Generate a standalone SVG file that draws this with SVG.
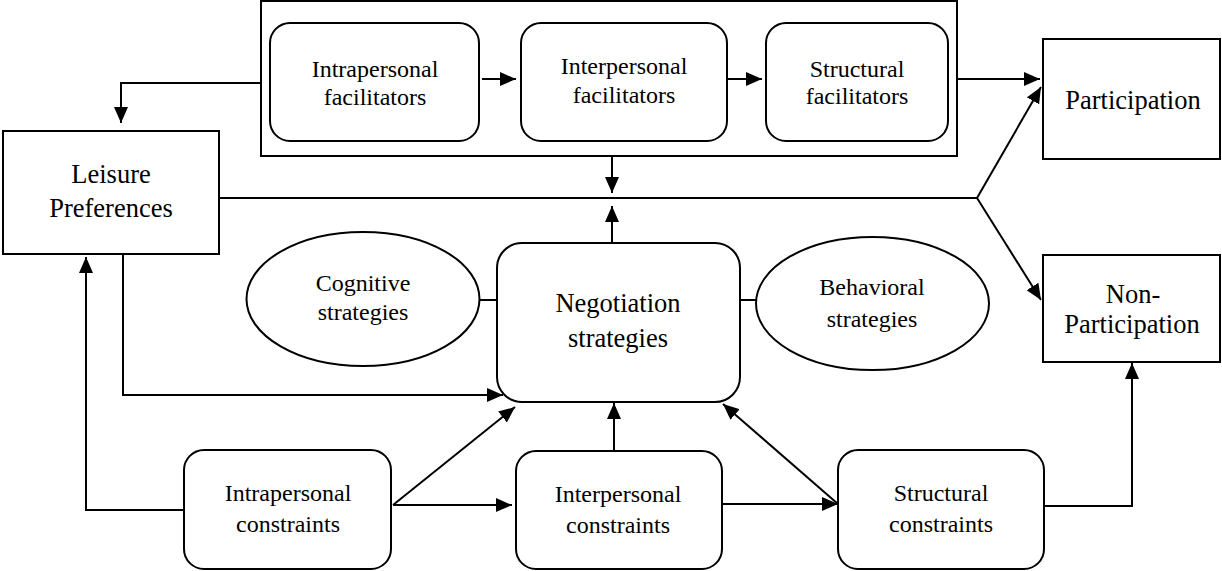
<svg xmlns="http://www.w3.org/2000/svg" width="1222" height="571" viewBox="0 0 1222 571">
<style>
.box{fill:#fff;stroke:#000;stroke-width:2}
.ln{fill:none;stroke:#000;stroke-width:2}
</style>
<defs>
<marker id="ah" viewBox="0 0 16 14" refX="16" refY="7" markerWidth="16" markerHeight="14" markerUnits="userSpaceOnUse" orient="auto">
<path d="M0,0 L16,7 L0,14 Z" fill="#000"/>
</marker>
</defs>
<rect width="1222" height="571" fill="#fff"/>
<g font-family="Liberation Serif, Times New Roman, serif" text-anchor="middle" fill="#000">
<g id="facilitators-group"><rect class="box" x="261" y="1" width="696" height="155"/></g>
<g id="intrapersonal-facilitators" font-size="24"><rect class="box" x="270" y="23" width="209" height="118" rx="20"/><text x="375" y="77">Intrapersonal</text><text x="375" y="105">facilitators</text></g>
<g id="interpersonal-facilitators" font-size="24"><rect class="box" x="521" y="23" width="206" height="118" rx="20"/><text x="624" y="74">Interpersonal</text><text x="624" y="103">facilitators</text></g>
<g id="structural-facilitators" font-size="24"><rect class="box" x="766" y="23" width="182" height="118" rx="20"/><text x="857" y="77">Structural</text><text x="857" y="104">facilitators</text></g>
<g id="participation" font-size="26.5"><rect class="box" x="1043" y="39" width="177" height="120"/><text x="1133" y="109">Participation</text></g>
<g id="non-participation" font-size="26.5"><rect class="box" x="1043" y="255" width="177" height="107"/><text x="1133" y="303">Non-</text><text x="1132" y="333">Participation</text></g>
<g id="leisure-preferences" font-size="26.5"><rect class="box" x="3" y="131" width="216" height="123"/><text x="111" y="183">Leisure</text><text x="111" y="217">Preferences</text></g>
<g id="cognitive-strategies" font-size="24"><ellipse class="box" cx="363" cy="299" rx="116.5" ry="67"/><text x="363" y="291">Cognitive</text><text x="363" y="320">strategies</text></g>
<g id="negotiation-strategies" font-size="26.5"><rect class="box" x="497" y="243" width="243" height="159" rx="25"/><text x="618" y="312">Negotiation</text><text x="618" y="347">strategies</text></g>
<g id="behavioral-strategies" font-size="24"><ellipse class="box" cx="872.5" cy="303.5" rx="116.5" ry="66.5"/><text x="872" y="295">Behavioral</text><text x="872" y="327">strategies</text></g>
<g id="intrapersonal-constraints" font-size="24"><rect class="box" x="184" y="450" width="207" height="119" rx="20"/><text x="288" y="501">Intrapersonal</text><text x="288" y="532">constraints</text></g>
<g id="interpersonal-constraints" font-size="24"><rect class="box" x="516" y="451" width="206" height="118" rx="20"/><text x="618" y="502">Interpersonal</text><text x="618" y="533">constraints</text></g>
<g id="structural-constraints" font-size="24"><rect class="box" x="838" y="450" width="206" height="119" rx="20"/><text x="941" y="501">Structural</text><text x="941" y="532">constraints</text></g>
</g>
<g id="connectors">
<path class="ln" d="M482,79 H516" marker-end="url(#ah)"/>
<path class="ln" d="M728,79 H762" marker-end="url(#ah)"/>
<path class="ln" d="M261,83 H121 V123" marker-end="url(#ah)"/>
<path class="ln" d="M957,79 H1040" marker-end="url(#ah)"/>
<path class="ln" d="M219,198 H977"/>
<path class="ln" d="M977,198 L1041,87" marker-end="url(#ah)"/>
<path class="ln" d="M977,198 L1041,300" marker-end="url(#ah)"/>
<path class="ln" d="M612,157 V193" marker-end="url(#ah)"/>
<path class="ln" d="M612,243 V206" marker-end="url(#ah)"/>
<path class="ln" d="M480,300 H497"/>
<path class="ln" d="M740,300 H756"/>
<path class="ln" d="M123,254 V395 H503" marker-end="url(#ah)"/>
<path class="ln" d="M184,510 H86 V257" marker-end="url(#ah)"/>
<path class="ln" d="M393,505 L515,407" marker-end="url(#ah)"/>
<path class="ln" d="M393,505 H512" marker-end="url(#ah)"/>
<path class="ln" d="M614,451 V403" marker-end="url(#ah)"/>
<path class="ln" d="M722,504 H838" marker-end="url(#ah)"/>
<path class="ln" d="M838,504 L723,404" marker-end="url(#ah)"/>
<path class="ln" d="M1044,506 H1132 V363" marker-end="url(#ah)"/>
</g>
</svg>
